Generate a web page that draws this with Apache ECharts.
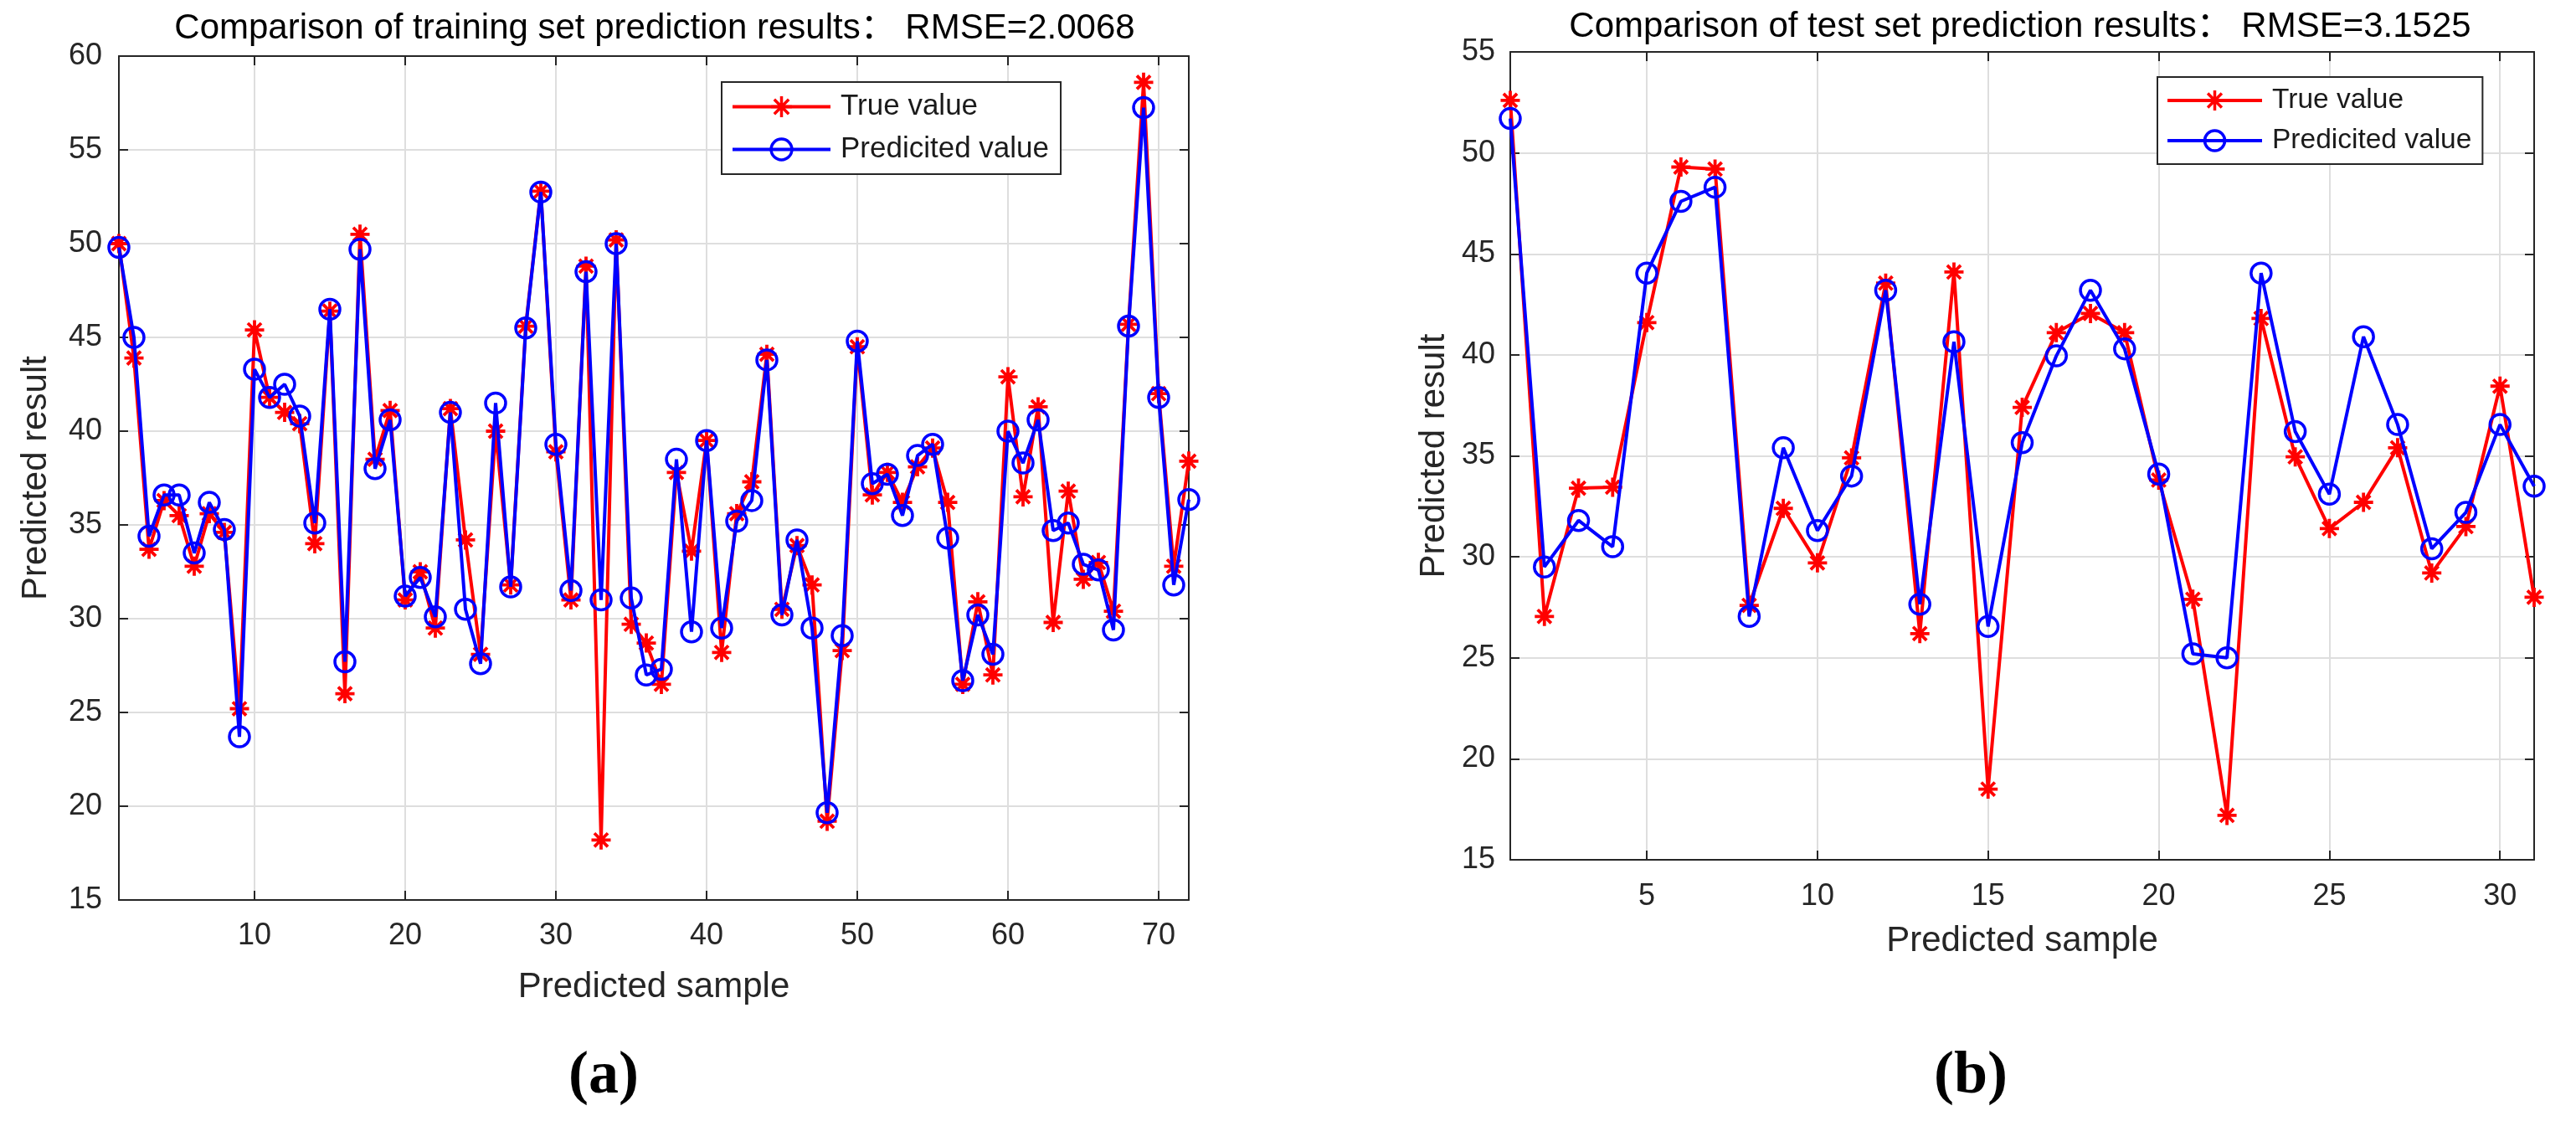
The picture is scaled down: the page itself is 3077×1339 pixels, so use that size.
<!DOCTYPE html>
<html>
<head>
<meta charset="utf-8">
<script src="https://cdn.jsdelivr.net/npm/echarts@6/dist/echarts.min.js"></script>
<style>
html,body{margin:0;padding:0;background:#fff;}
#chart{width:3077px;height:1339px;}
</style>
</head>
<body>
<div id="chart"></div>
<script>
// ---- data ----
const trainTitle = 'Comparison of training set prediction results\uFF1A RMSE=2.0068';
const testTitle = 'Comparison of test set prediction results\uFF1A RMSE=3.1525';
const trainTrue = [50.0,43.9,33.7,36.3,35.5,32.8,35.6,34.6,25.2,45.4,
  41.8,41.0,40.4,34.0,46.4,26.0,50.5,38.5,41.1,31.0,
  32.5,29.5,41.2,34.2,28.1,40.0,31.8,45.6,52.8,38.9,
  31.0,48.8,18.2,50.2,29.7,28.7,26.5,37.8,33.6,39.5,
  28.2,35.6,37.3,44.1,30.5,33.9,31.8,19.2,28.3,44.5,
  36.6,37.8,36.2,38.1,39.1,36.2,26.5,30.9,27.0,42.9,
  36.5,41.3,29.8,36.8,32.1,33.0,30.4,45.7,58.6,42.0,
  32.8,38.4];
const trainPred = [49.8,45.0,34.4,36.6,36.6,33.5,36.2,34.75,23.7,43.3,
  41.8,42.5,40.8,35.1,46.5,27.7,49.7,38.0,40.6,31.2,
  32.2,30.1,41.0,30.5,27.6,41.5,31.7,45.5,52.75,39.3,
  31.5,48.5,31.0,50.0,31.1,27.0,27.3,38.5,29.3,39.5,
  29.5,35.2,36.3,43.8,30.2,34.2,29.5,19.65,29.1,44.8,
  37.2,37.7,35.5,38.7,39.3,34.3,26.7,30.2,28.1,40.0,
  38.3,40.6,34.7,35.1,32.9,32.6,29.4,45.6,57.25,41.8,
  31.8,36.35];
const testTrue = [52.6,27.05,33.4,33.45,41.6,49.3,49.2,27.6,32.4,29.7,
  34.9,43.55,26.2,44.1,18.5,37.4,41.1,42.05,41.1,33.8,
  27.9,17.2,41.8,34.95,31.4,32.7,35.4,29.2,31.5,38.45,28.0];
const testPred = [51.7,29.5,31.8,30.5,44.05,47.6,48.3,27.05,35.4,31.3,
  34.0,43.2,27.65,40.65,26.55,35.65,39.95,43.2,40.3,34.1,
  25.2,25.0,44.05,36.2,33.1,40.9,36.55,30.4,32.2,36.55,33.5];
const trainSamples = trainTrue.map((_, i) => String(i + 1));
const testSamples = testTrue.map((_, i) => String(i + 1));
const trainXTickStep = 10;
const testXTickStep = 5;
const trainY = {min: 15, max: 60, interval: 5};
const testY = {min: 15, max: 55, interval: 5};
const seriesNames = ['True value', 'Predicited value'];

// ---- styles ----
const AX = '#262626';
const FONT = 'Liberation Sans, Arial, Helvetica, sans-serif';
const TITLE_FONT = 'Liberation Sans, Arial, "Noto Sans CJK SC", sans-serif';
const ASTERISK = 'path://M10,0L10,20M0,10L20,10M3,3L17,17M3,17L17,3';

function xAxes(gridIndex, cats, step, labelMargin, nameGap) {
  const show = (idx) => (idx + 1) % step === 0;
  return [{
    type: 'category', gridIndex, data: cats, boundaryGap: false, position: 'bottom',
    name: 'Predicted sample', nameLocation: 'middle', nameGap,
    nameTextStyle: {fontFamily: FONT, fontSize: 42, color: AX},
    axisLine: {show: true, lineStyle: {color: AX, width: 2}},
    axisTick: {show: true, inside: true, length: 11, interval: show, lineStyle: {color: AX, width: 2}},
    axisLabel: {show: true, interval: show, margin: labelMargin, fontFamily: FONT, fontSize: 36, color: AX},
    splitLine: {show: true, interval: show, lineStyle: {color: '#dedede', width: 2}}
  }, {
    type: 'category', gridIndex, data: cats, boundaryGap: false, position: 'top',
    axisLine: {show: true, lineStyle: {color: AX, width: 2}},
    axisTick: {show: true, inside: true, length: 11, interval: show, lineStyle: {color: AX, width: 2}},
    axisLabel: {show: false},
    splitLine: {show: false}
  }];
}
function yAxes(gridIndex, rng, labelMargin, nameGap) {
  return [{
    type: 'value', gridIndex, position: 'left', min: rng.min, max: rng.max, interval: rng.interval,
    name: 'Predicted result', nameLocation: 'middle', nameGap,
    nameTextStyle: {fontFamily: FONT, fontSize: 42, color: AX},
    axisLine: {show: true, lineStyle: {color: AX, width: 2}},
    axisTick: {show: true, inside: true, length: 11, lineStyle: {color: AX, width: 2}},
    axisLabel: {show: true, margin: labelMargin, fontFamily: FONT, fontSize: 36, color: AX},
    splitLine: {show: true, lineStyle: {color: '#dedede', width: 2}}
  }, {
    type: 'value', gridIndex, position: 'right', min: rng.min, max: rng.max, interval: rng.interval,
    axisLine: {show: true, lineStyle: {color: AX, width: 2}},
    axisTick: {show: true, inside: true, length: 11, lineStyle: {color: AX, width: 2}},
    axisLabel: {show: false},
    splitLine: {show: false}
  }];
}
function trueSeries(data, xi, yi) {
  return {
    name: seriesNames[0], type: 'line', data, xAxisIndex: xi, yAxisIndex: yi,
    symbol: ASTERISK, symbolSize: 23, showAllSymbol: true,
    lineStyle: {color: '#ff0000', width: 4},
    itemStyle: {color: '#ff0000', borderColor: '#ff0000', borderWidth: 3.8},
    emphasis: {disabled: true}, z: 2
  };
}
function predSeries(data, xi, yi) {
  return {
    name: seriesNames[1], type: 'line', data, xAxisIndex: xi, yAxisIndex: yi,
    symbol: 'circle', symbolSize: 24, showAllSymbol: true,
    lineStyle: {color: '#0000ff', width: 4},
    itemStyle: {color: 'rgba(0,0,0,0)', borderColor: '#0000ff', borderWidth: 3.5},
    emphasis: {disabled: true}, z: 3
  };
}
function legend(left, top, fontSize, itemWidth, itemHeight, gap, padding) {
  return {
    data: seriesNames, orient: 'vertical', left, top,
    itemWidth, itemHeight, itemGap: gap, padding,
    backgroundColor: '#fff', borderColor: AX, borderWidth: 2, borderRadius: 0,
    selectedMode: false,
    lineStyle: {width: 4},
    itemStyle: {borderWidth: 3.5},
    textStyle: {fontFamily: FONT, fontSize, color: '#1a1a1a', padding: [0, 0, 0, 7]}
  };
}

const serifFont = 'Liberation Serif, Times New Roman, serif';
const chart = echarts.init(document.getElementById('chart'), null, {renderer: 'canvas'});
chart.setOption({
  animation: false,
  backgroundColor: '#fff',
  title: [
    {text: trainTitle, left: 782, top: 13, textAlign: 'center', padding: 0,
     textStyle: {fontFamily: TITLE_FONT, fontSize: 42, fontWeight: 'normal', color: '#000'}},
    {text: testTitle, left: 2413, top: 11, textAlign: 'center', padding: 0,
     textStyle: {fontFamily: TITLE_FONT, fontSize: 42, fontWeight: 'normal', color: '#000'}},
    {text: '{p|(}{b|a}{p|)}', left: 721, top: 1250, textAlign: 'center', padding: 0,
     textStyle: {rich: {p: {fontFamily: serifFont, fontSize: 72, color: '#000'},
                        b: {fontFamily: serifFont, fontSize: 72, fontWeight: 'bold', color: '#000'}}}},
    {text: '{p|(}{b|b}{p|)}', left: 2354, top: 1250, textAlign: 'center', padding: 0,
     textStyle: {rich: {p: {fontFamily: serifFont, fontSize: 72, color: '#000'},
                        b: {fontFamily: serifFont, fontSize: 72, fontWeight: 'bold', color: '#000'}}}}
  ],
  legend: [
    legend(862, 98, 35, 117, 31, 16, [12, 14, 12, 11]),
    legend(2577, 92, 33.5, 113, 30, 14, [11, 13, 11, 10])
  ],
  grid: [
    {left: 142, top: 67, width: 1278, height: 1008, containLabel: false},
    {left: 1804, top: 62, width: 1223, height: 965, containLabel: false}
  ],
  xAxis: [].concat(xAxes(0, trainSamples, trainXTickStep, 25, 83), xAxes(1, testSamples, testXTickStep, 26, 76)),
  yAxis: [].concat(yAxes(0, trainY, 20, 78), yAxes(1, testY, 18, 70)),
  series: [
    trueSeries(trainTrue, 0, 0), predSeries(trainPred, 0, 0),
    trueSeries(testTrue, 2, 2), predSeries(testPred, 2, 2)
  ]
});
</script>
</body>
</html>
